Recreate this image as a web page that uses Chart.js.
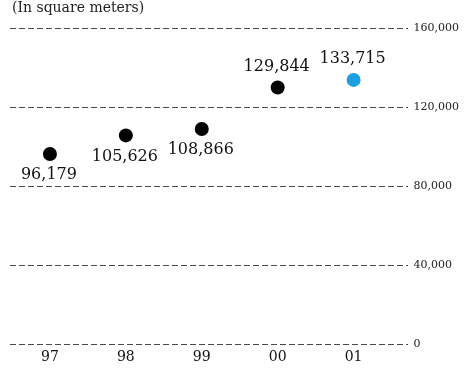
<!DOCTYPE html>
<html>
<head>
<meta charset="utf-8">
<script src="https://cdn.jsdelivr.net/npm/chart.js@4/dist/chart.umd.min.js"></script>
<style>
  html, body { margin: 0; padding: 0; background: #fff; }
  canvas { display: block; }
</style>
</head>
<body>
<canvas id="c" width="468" height="368"></canvas>
<script>
// Floor area by year, in square meters
const years = ['97', '98', '99', '00', '01'];
const area = [96179, 105626, 108866, 129844, 133715];
const yTicks = [0, 40000, 80000, 120000, 160000];

// Presentation
const dotColors = ['#000000', '#000000', '#000000', '#000000', '#1a9fe0'];
const labelSide = ['below', 'below', 'below', 'above', 'above'];
const serif = "'DejaVu Serif', 'Liberation Serif', serif";

const fmt = v => v.toLocaleString('en-US');

const valueLabels = {
  id: 'valueLabels',
  afterDatasetsDraw(chart) {
    const ctx = chart.ctx;
    const meta = chart.getDatasetMeta(0);
    ctx.save();
    ctx.font = '16px ' + serif;
    ctx.fillStyle = '#111';
    ctx.textAlign = 'center';
    ctx.textBaseline = 'middle';
    meta.data.forEach((pt, i) => {
      const dy = labelSide[i] === 'below' ? 21 : -21;
      ctx.fillText(fmt(area[i]), pt.x - 1, pt.y + dy);
    });
    ctx.restore();
  }
};

const unitNote = {
  id: 'unitNote',
  afterDraw(chart) {
    const ctx = chart.ctx;
    ctx.save();
    ctx.font = '14px ' + serif;
    ctx.fillStyle = '#222';
    ctx.textAlign = 'left';
    ctx.textBaseline = 'middle';
    ctx.fillText('(In square meters)', 12, 8);
    ctx.restore();
  }
};

new Chart(document.getElementById('c'), {
  type: 'line',
  data: {
    datasets: [{
      data: area.map((v, i) => ({ x: i, y: v })),
      showLine: false,
      pointRadius: 7,
      pointHoverRadius: 7,
      pointBorderWidth: 0,
      pointBackgroundColor: dotColors,
      pointBorderColor: dotColors
    }]
  },
  options: {
    responsive: false,
    animation: false,
    layout: { padding: { top: 28, left: 10, right: 3, bottom: 3 } },
    plugins: { legend: { display: false }, tooltip: { enabled: false } },
    scales: {
      x: {
        type: 'linear',
        min: -0.526,
        max: 4.71,
        afterBuildTicks(scale) {
          scale.ticks = years.map((_, i) => ({ value: i }));
        },
        afterFit(scale) {
          scale.height = 21;
        },
        grid: { display: false, drawTicks: false },
        border: { display: false },
        ticks: {
          padding: 5,
          color: '#111',
          font: { family: serif, size: 14 },
          callback: v => years[v] ?? ''
        }
      },
      y: {
        position: 'right',
        min: 0,
        max: 160000,
        afterBuildTicks(scale) {
          scale.ticks = yTicks.map(v => ({ value: v }));
        },
        grid: { color: '#4a4a4a', lineWidth: 1, drawTicks: false },
        border: { display: false, dash: [6, 3] },
        ticks: {
          padding: 6,
          color: '#222',
          font: { family: serif, size: 11 },
          callback: v => fmt(v)
        }
      }
    }
  },
  plugins: [valueLabels, unitNote]
});
</script>
</body>
</html>
